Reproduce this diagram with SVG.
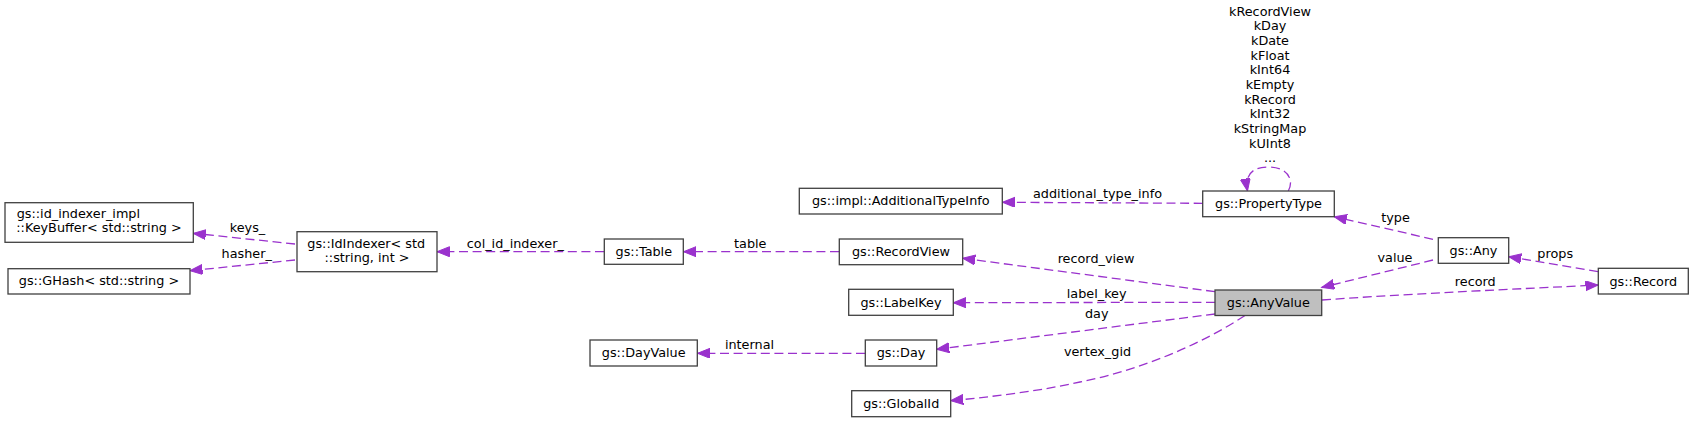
<svg xmlns="http://www.w3.org/2000/svg" width="1695" height="423" viewBox="0 0 1695 423">
<style>
text{font-family:"DejaVu Sans","Liberation Sans",sans-serif;font-size:12.8px;fill:#000}
.n rect{fill:#fff;stroke:#404040;stroke-width:1.3}
.n text{text-anchor:middle}
.n text.l{text-anchor:start}
#AnyValue rect{fill:#bfbfbf}
.e path{fill:none;stroke:#9a32cd;stroke-width:1.3;stroke-dasharray:9,4.6;marker-end:url(#ah)}
.e text{text-anchor:middle}
</style>
<defs>
<marker id="ah" markerUnits="userSpaceOnUse" markerWidth="14" markerHeight="11" refX="12.5" refY="5" orient="auto">
<path d="M0,0 L12.5,5 L0,10 z" fill="#9a32cd" stroke="#9a32cd" stroke-width="1"/>
</marker>
</defs>
<rect width="1695" height="423" fill="#fff"/>
<g class="e" id="edges">
<path d="M295,244 L193.3,233.3"/>
<text x="247.5" y="231.7">keys_</text>
<path d="M295,260 L190,270.7"/>
<text x="246.7" y="258.3">hasher_</text>
<path d="M604,251.7 L437,251.7"/>
<text x="515.3" y="247.7">col_id_indexer_</text>
<path d="M839,251.7 L683.5,251.7"/>
<text x="750.3" y="247.7">table</text>
<path d="M865,353.3 L697.5,353.3"/>
<text x="749.5" y="348.5">internal</text>
<path d="M1202.7,203.3 L1002.5,202.3"/>
<text x="1097.5" y="198.3">additional_type_info</text>
<path d="M1288.3,191 C1294,181 1289,167 1268,167 C1250,167 1245,177 1247.5,191"/>
<text x="1270" y="15.7">kRecordView</text>
<text x="1270" y="30.4">kDay</text>
<text x="1270" y="45">kDate</text>
<text x="1270" y="59.7">kFloat</text>
<text x="1270" y="74.4">kInt64</text>
<text x="1270" y="89">kEmpty</text>
<text x="1270" y="103.7">kRecord</text>
<text x="1270" y="118.4">kInt32</text>
<text x="1270" y="133">kStringMap</text>
<text x="1270" y="147.7">kUInt8</text>
<text x="1270" y="162.4">...</text>
<path d="M1433,239.3 L1334.3,216.7"/>
<text x="1395.5" y="222.3">type</text>
<path d="M1433,260 L1321.7,287.5"/>
<text x="1395" y="262.3">value</text>
<path d="M1598,271.7 L1508.8,256.7"/>
<text x="1555.2" y="258.3">props</text>
<path d="M1322,300 C1420,293 1520,289 1598,285"/>
<text x="1475.3" y="286.3">record</text>
<path d="M1215,291.7 L962.7,258.3"/>
<text x="1096" y="262.5">record_view</text>
<path d="M1215,302.3 L953.3,302.7"/>
<text x="1096.7" y="298.3">label_key</text>
<path d="M1215,314 L936.7,349.3"/>
<text x="1096.7" y="317.7">day</text>
<path d="M1245,315.5 C1200,345 1140,370 1080,382 C1040,391 990,397 950.7,400.7"/>
<text x="1097.5" y="355.7">vertex_gid</text>
</g>
<g class="n" id="KeyBuffer"><rect x="5" y="202.7" width="188.3" height="39.6"/><text class="l" x="16.7" y="217.7">gs::id_indexer_impl</text><text x="99" y="232.3">::KeyBuffer&lt; std::string &gt;</text></g>
<g class="n" id="GHash"><rect x="8" y="268.7" width="182" height="25.3"/><text x="99" y="285.3">gs::GHash&lt; std::string &gt;</text></g>
<g class="n" id="IdIndexer"><rect x="297" y="231.7" width="140" height="40"/><text class="l" x="307.3" y="247.7">gs::IdIndexer&lt; std</text><text x="367" y="262.3">::string, int &gt;</text></g>
<g class="n" id="Table"><rect x="604.3" y="239" width="79" height="25.3"/><text x="643.8" y="256">gs::Table</text></g>
<g class="n" id="RecordView"><rect x="839.3" y="239" width="123.4" height="25.7"/><text x="901" y="256">gs::RecordView</text></g>
<g class="n" id="AdditionalTypeInfo"><rect x="799.3" y="188.3" width="203" height="25.7"/><text x="900.8" y="205.3">gs::impl::AdditionalTypeInfo</text></g>
<g class="n" id="PropertyType"><rect x="1202.7" y="191" width="131.6" height="25.7"/><text x="1268.5" y="207.8">gs::PropertyType</text></g>
<g class="n" id="LabelKey"><rect x="848.7" y="289.3" width="104.6" height="26"/><text x="901" y="307">gs::LabelKey</text></g>
<g class="n" id="DayValue"><rect x="590" y="340" width="107.3" height="26"/><text x="643.7" y="357.3">gs::DayValue</text></g>
<g class="n" id="Day"><rect x="865.3" y="340" width="71.4" height="26"/><text x="901" y="357.3">gs::Day</text></g>
<g class="n" id="GlobalId"><rect x="851.7" y="390.7" width="99" height="26"/><text x="901.2" y="407.8">gs::GlobalId</text></g>
<g class="n" id="AnyValue"><rect x="1215" y="290" width="106.7" height="25.5"/><text x="1268.3" y="307.3">gs::AnyValue</text></g>
<g class="n" id="Any"><rect x="1438.3" y="237.7" width="70.4" height="25.6"/><text x="1473.5" y="254.8">gs::Any</text></g>
<g class="n" id="Record"><rect x="1598.3" y="268.3" width="90" height="25.7"/><text x="1643.3" y="285.5">gs::Record</text></g>
</svg>
